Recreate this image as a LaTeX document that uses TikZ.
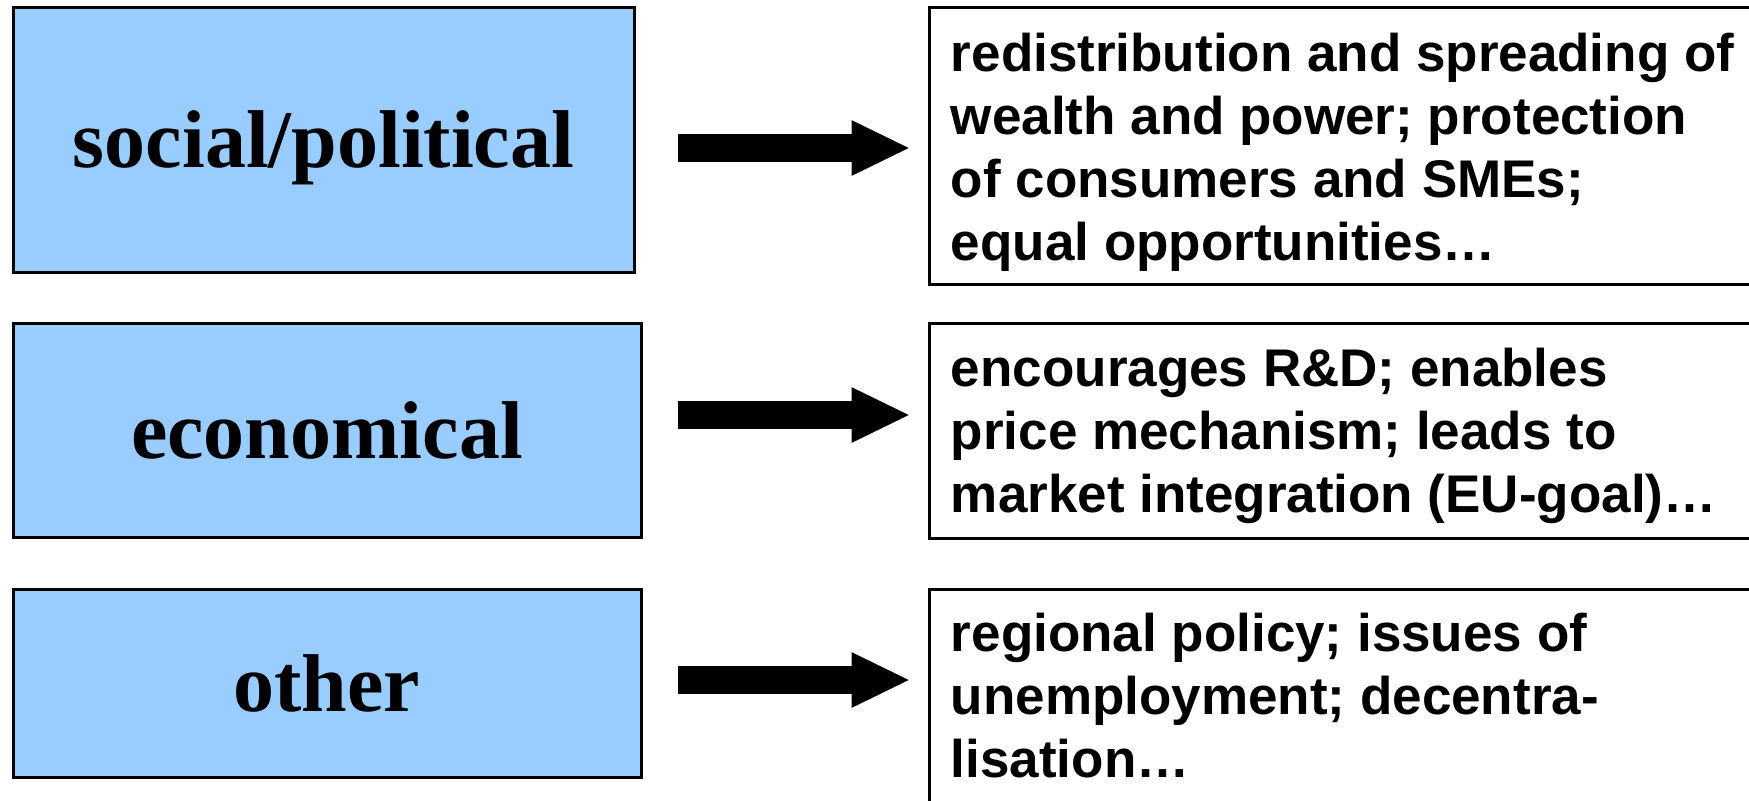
\documentclass[tikz,border=0pt]{standalone}
\usepackage{fontspec}
\setmainfont{Liberation Serif}
\newfontfamily\arialfont{Liberation Sans}
\usetikzlibrary{arrows.meta,calc}
\definecolor{boxblue}{HTML}{99CCFF}
\begin{document}
\begin{tikzpicture}[x=0.5pt,y=-0.5pt,
  catbox/.style={draw=black,line width=1.5pt,fill=boxblue,rectangle,inner sep=0pt,
    font=\fontsize{41}{49}\selectfont\bfseries},
  descbox/.style={draw=black,line width=1.5pt,fill=white,rectangle,inner sep=0pt},
  desctext/.style={anchor=north west,inner sep=0pt,align=left,
    font=\arialfont\bfseries\fontsize{26.5}{31.5}\selectfont},
  bigarrow/.style={line width=14pt,-{Triangle[length=29.5pt,width=25.5pt]},shorten >=8.5pt}
]
\clip (0,0) rectangle (1749,800);
\fill[white] (0,0) rectangle (1749,800);

\node[catbox,minimum width=310.5pt,minimum height=132.5pt,text depth=0pt] (L1) at (323.5,139.5) {social/political};
\node[catbox,minimum width=314pt,minimum height=107pt] (L2) at (327,430) {economical};
\node[catbox,minimum width=314pt,minimum height=94pt] (L3) at (327,683) {other};

\node[descbox,minimum width=415.5pt,minimum height=138.5pt] (R1) at (1344.5,145.5) {};
\node[descbox,minimum width=415.5pt,minimum height=107.5pt] (R2) at (1344.5,430.5) {};
\node[descbox,minimum width=415.5pt,minimum height=115.5pt] (R3) at (1344.5,704.5) {};

\node[desctext] (T1) at ([xshift=11.5pt,yshift=-13.5pt]R1.north west)
  {redistribution and spreading of\\wealth and power; protection\\of consumers and SMEs;\\equal opportunities…};
\node[desctext] (T2) at ([xshift=11.5pt,yshift=-13pt]R2.north west)
  {encourages R\&D; enables\\price mechanism; leads to\\market integration (EU-goal)…};
\node[desctext] (T3) at ([xshift=11.5pt,yshift=-12.5pt]R3.north west)
  {regional policy; issues of\\unemployment; decentra-\\lisation…};

\coordinate (a1) at (678,148);
\coordinate (a2) at (678,415);
\coordinate (a3) at (678,680);
\draw[bigarrow] (a1) -- (a1 -| R1.west);
\draw[bigarrow] (a2) -- (a2 -| R2.west);
\draw[bigarrow] (a3) -- (a3 -| R3.west);
\end{tikzpicture}
\end{document}
